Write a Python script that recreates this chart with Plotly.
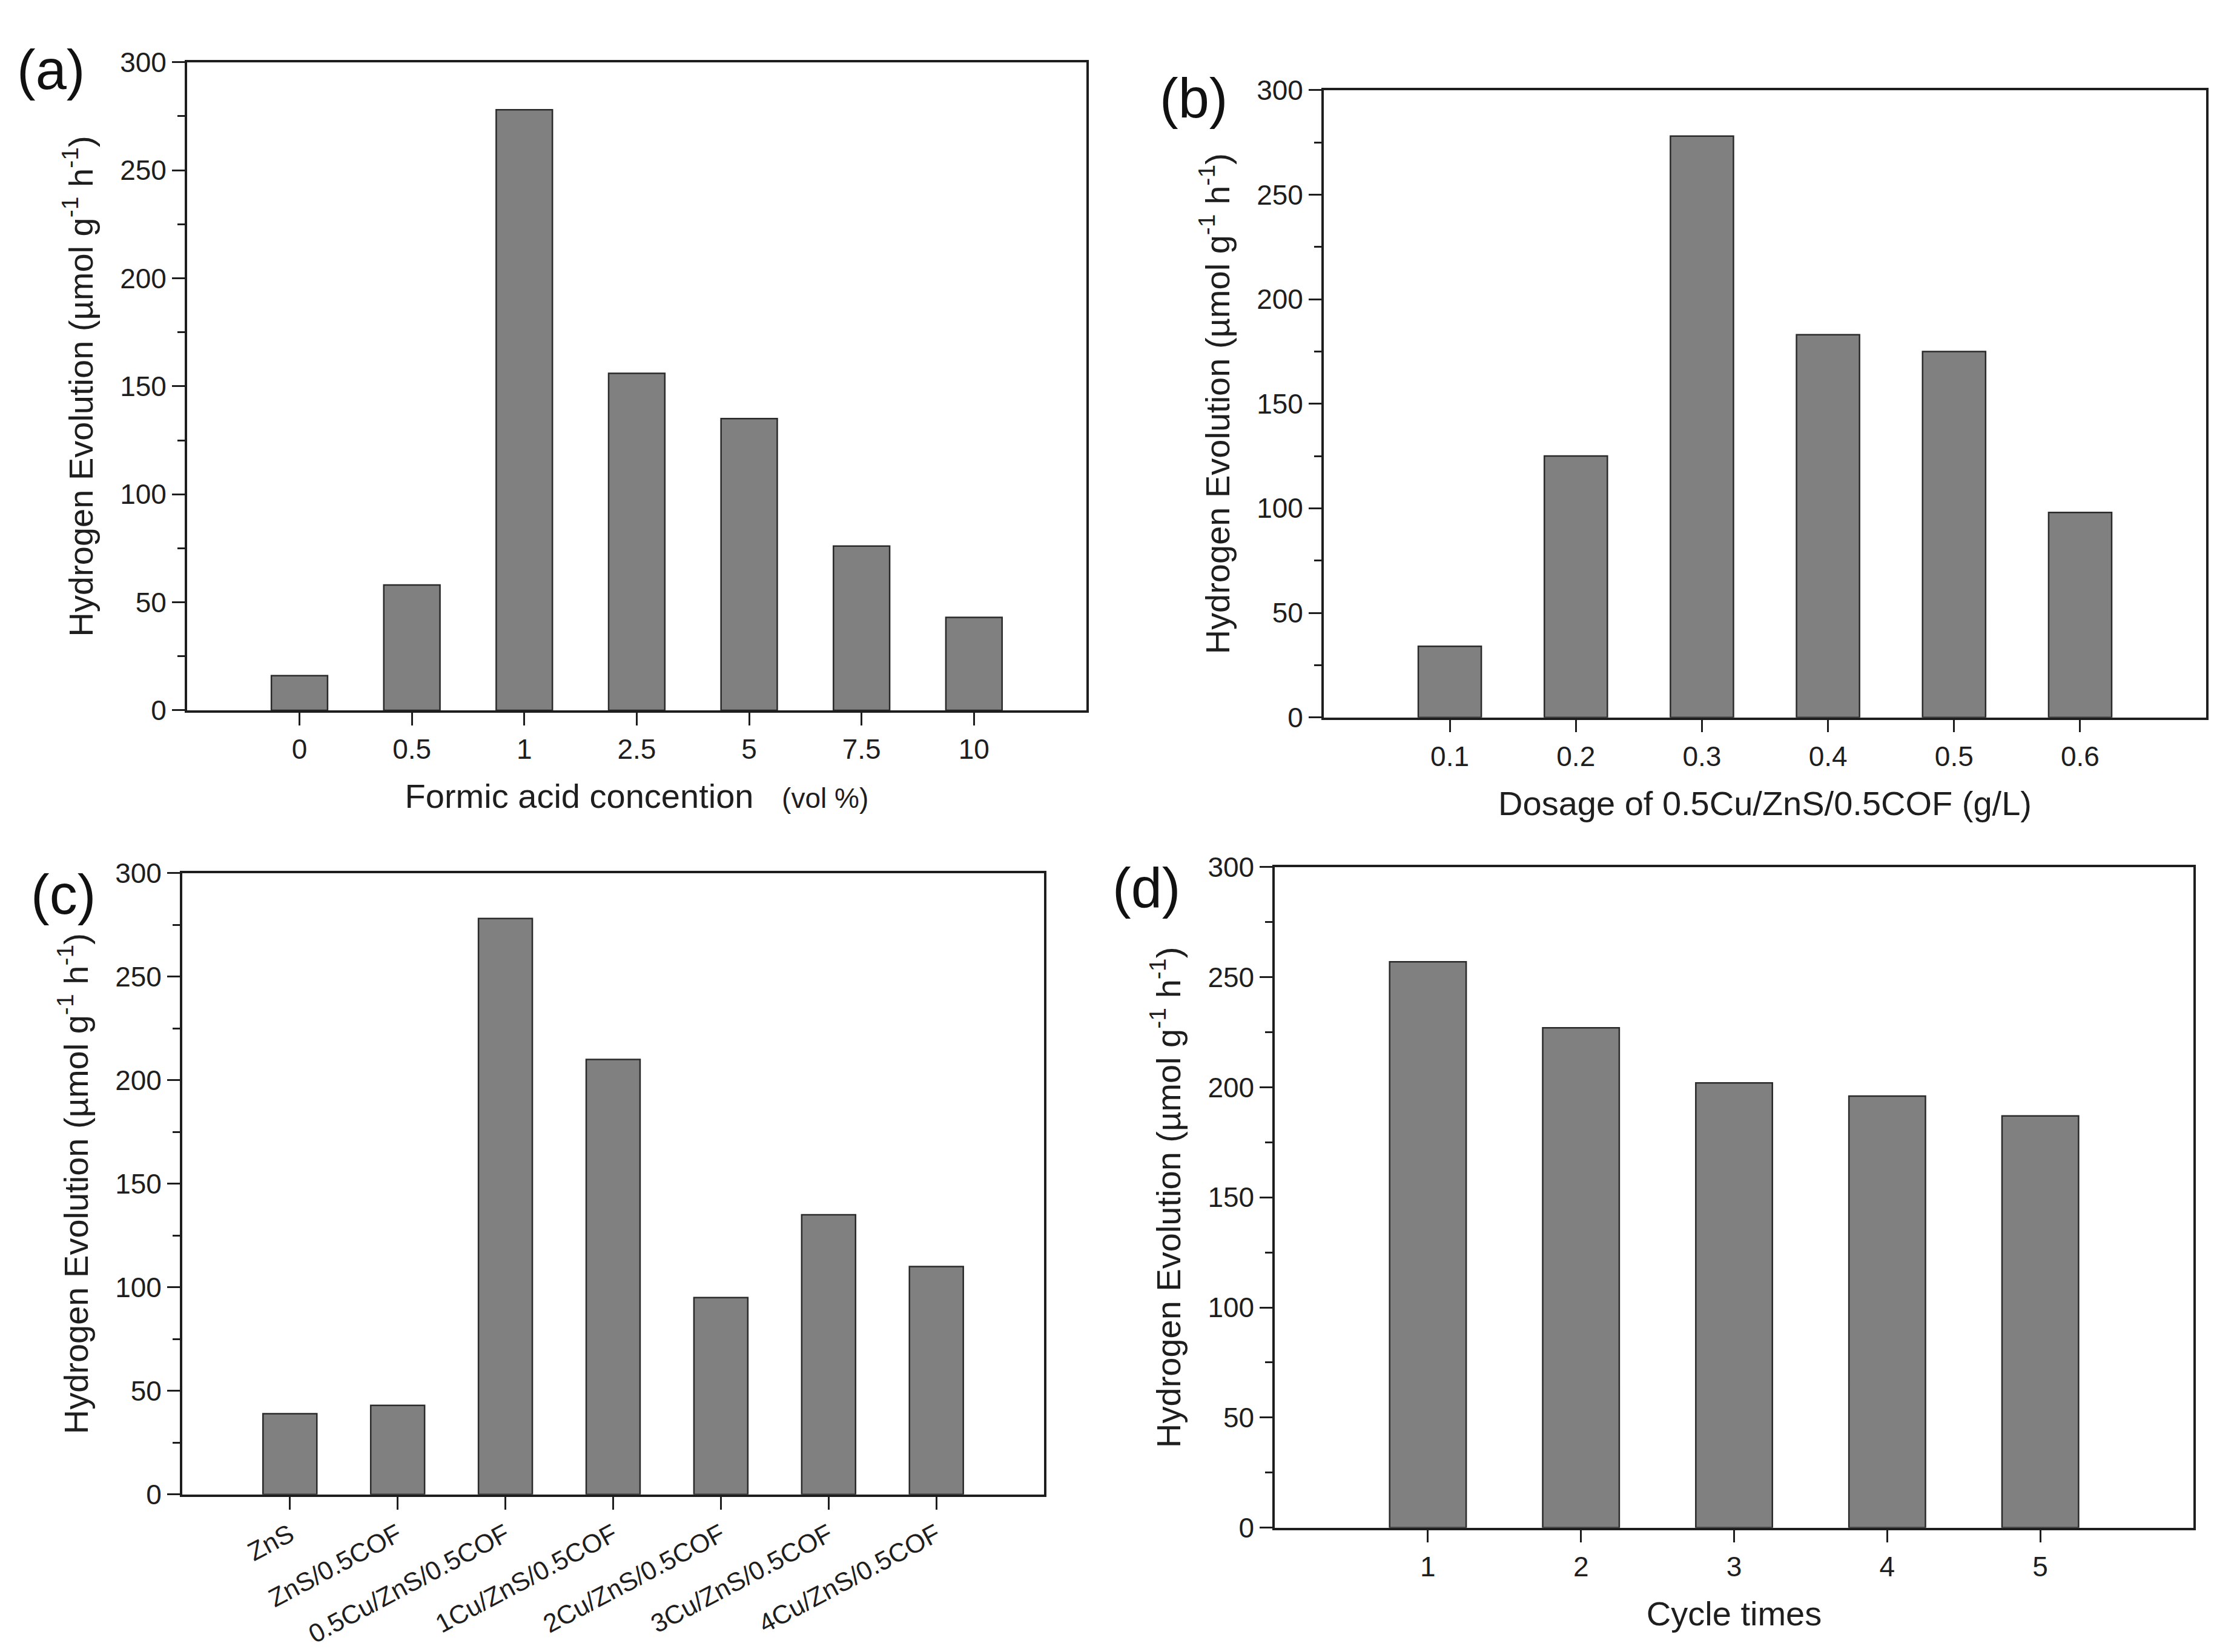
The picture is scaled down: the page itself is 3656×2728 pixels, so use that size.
import plotly.graph_objects as go
from plotly.subplots import make_subplots

# (a) formic acid concentration (vol %)
formic_conc = ["0", "0.5", "1", "2.5", "5", "7.5", "10"]
h2_formic = [16, 58, 278, 156, 135, 76, 43]

# (b) dosage of 0.5Cu/ZnS/0.5COF (g/L)
dosage = ["0.1", "0.2", "0.3", "0.4", "0.5", "0.6"]
h2_dosage = [34, 125, 278, 183, 175, 98]

# (c) samples
samples = ["ZnS", "ZnS/0.5COF", "0.5Cu/ZnS/0.5COF", "1Cu/ZnS/0.5COF",
           "2Cu/ZnS/0.5COF", "3Cu/ZnS/0.5COF", "4Cu/ZnS/0.5COF"]
h2_samples = [39, 43, 278, 210, 95, 135, 110]

# (d) recycling test
cycles = ["1", "2", "3", "4", "5"]
h2_cycles = [257, 227, 202, 196, 187]

FONT = "Liberation Sans, Arial, sans-serif"
BAR = "#808080"
EDGE = "#2a2a2a"
INK = "#1e1e1e"
ytitle = "Hydrogen Evolution (µmol g<sup>-1</sup> h<sup>-1</sup>)"

fig = make_subplots(rows=2, cols=2)

panels = [
    (formic_conc, h2_formic, 1, 1),
    (dosage, h2_dosage, 1, 2),
    (samples, h2_samples, 2, 1),
    (cycles, h2_cycles, 2, 2),
]
for cats, vals, r, c in panels:
    fig.add_trace(go.Bar(x=cats, y=vals, width=0.5,
                         marker=dict(color=BAR, line=dict(color=EDGE, width=2.5)),
                         showlegend=False), row=r, col=c)

# axes domains (paper fractions)
doms = [
    ([0.0823, 0.4885], [0.5744, 0.9743]),
    ([0.5957, 0.9943], [0.5700, 0.9571]),
    ([0.0801, 0.4694], [0.0905, 0.4740]),
    ([0.5736, 0.9885], [0.0700, 0.4776]),
]
nb = "\u00a0"
xtitles = [
    nb * 6 + "Formic acid concention" + nb * 3
    + "<span style='font-size:46px'>(vol %)</span>",
    "Dosage of 0.5Cu/ZnS/0.5COF (g/L)",
    None,
    "Cycle times",
]
ncats = [len(formic_conc), len(dosage), len(samples), len(cycles)]

for i, ((xd, yd), xt, n) in enumerate(zip(doms, xtitles, ncats)):
    sfx = "" if i == 0 else str(i + 1)
    fig.layout["xaxis" + sfx].update(
        domain=xd, type="category", range=[-1, n],
        showline=True, linecolor=INK, linewidth=3.5, mirror=True,
        ticks="outside", ticklen=21, tickwidth=3, tickcolor=INK,
        tickfont=dict(family=FONT, size=43 if i == 2 else 46, color=INK),
        showgrid=False, zeroline=False,
        tickangle=-28 if i == 2 else 0,
        title=dict(text=xt, font=dict(family=FONT, size=56, color=INK),
                   standoff=34) if xt else None,
    )
    fig.layout["yaxis" + sfx].update(
        domain=yd, range=[0, 300], dtick=50,
        showline=True, linecolor=INK, linewidth=3.5, mirror=True,
        ticks="outside", ticklen=21, tickwidth=3, tickcolor=INK,
        minor=dict(ticks="outside", dtick=25, ticklen=12, tickwidth=3, tickcolor=INK),
        tickfont=dict(family=FONT, size=46, color=INK),
        showgrid=False, zeroline=False,
        title=dict(text=ytitle, font=dict(family=FONT, size=56, color=INK),
                   standoff=28),
    )

labels = [("(a)", 0.0049, 0.9696), ("(b)", 0.5211, 0.9523),
          ("(c)", 0.0112, 0.4608), ("(d)", 0.4998, 0.4648)]
for txt, x, y in labels:
    fig.add_annotation(text=txt, x=x, y=y, xref="paper", yref="paper",
                       xanchor="left", yanchor="middle", showarrow=False,
                       font=dict(family=FONT, size=92, color="#111"))

fig.update_layout(width=3656, height=2728,
                  margin=dict(l=0, r=0, t=0, b=0),
                  paper_bgcolor="white", plot_bgcolor="white")

fig.write_html("out.html")
